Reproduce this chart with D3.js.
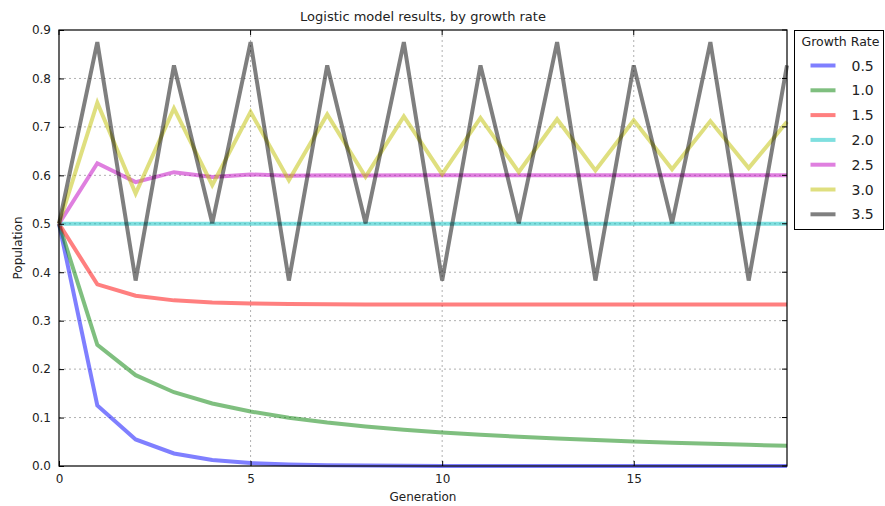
<!DOCTYPE html>
<html>
<head>
<meta charset="utf-8">
<script src="https://cdn.jsdelivr.net/npm/d3@7"></script>
<style>
  body { margin: 0; background: #fff; }
  svg text { font-family: "DejaVu Sans", sans-serif; fill: #222; }
</style>
</head>
<body>
<script>
// generations on the x axis
var generations = d3.range(0, 20);

// growth rates (legend labels)
var rates = ["0.5", "1.0", "1.5", "2.0", "2.5", "3.0", "3.5"];
var colors = ["#0000ff", "#008000", "#ff0000", "#00bfbf", "#bf00bf", "#bfbf00", "#000000"];

// population values, one array per growth rate
var pop05 = [0.5, 0.125, 0.0547, 0.0258, 0.0126, 0.0062, 0.0031, 0.0015, 0.0008, 0.0004, 0.0002, 0.0001, 0.0001, 0, 0, 0, 0, 0, 0, 0];
var pop10 = [0.5, 0.25, 0.1875, 0.1523, 0.1291, 0.1124, 0.0998, 0.0898, 0.0817, 0.075, 0.0694, 0.0646, 0.0604, 0.0568, 0.0536, 0.0507, 0.0481, 0.0458, 0.0437, 0.0418];
var pop15 = [0.5, 0.375, 0.3516, 0.3419, 0.3375, 0.3354, 0.3344, 0.3338, 0.3336, 0.3335, 0.3334, 0.3334, 0.3333, 0.3333, 0.3333, 0.3333, 0.3333, 0.3333, 0.3333, 0.3333];
var pop20 = [0.5, 0.5, 0.5, 0.5, 0.5, 0.5, 0.5, 0.5, 0.5, 0.5, 0.5, 0.5, 0.5, 0.5, 0.5, 0.5, 0.5, 0.5, 0.5, 0.5];
var pop25 = [0.5, 0.625, 0.5859, 0.6065, 0.5966, 0.6017, 0.5992, 0.6004, 0.5998, 0.6001, 0.6, 0.6, 0.6, 0.6, 0.6, 0.6, 0.6, 0.6, 0.6, 0.6];
var pop30 = [0.5, 0.75, 0.5625, 0.7383, 0.5796, 0.731, 0.5899, 0.7258, 0.597, 0.7218, 0.6024, 0.7185, 0.6068, 0.7158, 0.6101, 0.7137, 0.6127, 0.712, 0.6149, 0.7105];
var pop35 = [0.5, 0.875, 0.3828, 0.8269, 0.5009, 0.875, 0.3828, 0.8269, 0.5009, 0.875, 0.3828, 0.8269, 0.5009, 0.875, 0.3828, 0.8269, 0.5009, 0.875, 0.3828, 0.8269];
var series = [pop05, pop10, pop15, pop20, pop25, pop30, pop35];

var xTicks = [0, 5, 10, 15];
var yTicks = [0, 0.1, 0.2, 0.3, 0.4, 0.5, 0.6, 0.7, 0.8, 0.9];

var svgWidth = 885, svgHeight = 506;
var margin = {top: 30, right: 98, bottom: 40, left: 59};
var width = 787 - margin.left;
var height = 466 - margin.top;

var svg = d3.select("body").append("svg")
    .attr("width", svgWidth)
    .attr("height", svgHeight);

var chartGroup = svg.append("g").attr("transform", `translate(${margin.left}, ${margin.top})`);

var x = d3.scaleLinear().domain([0, 19]).range([0, width]);
var y = d3.scaleLinear().domain([0, 0.9]).range([height, 0]);

// grid
chartGroup.append("g").selectAll("line")
    .data(xTicks.slice(1))
    .enter().append("line")
    .attr("x1", d => x(d)).attr("x2", d => x(d))
    .attr("y1", 0).attr("y2", height)
    .attr("stroke", "#b0b0b0").attr("stroke-dasharray", "2,3").attr("stroke-width", 1);
chartGroup.append("g").selectAll("line")
    .data(yTicks.slice(1, -1))
    .enter().append("line")
    .attr("x1", 0).attr("x2", width)
    .attr("y1", d => y(d)).attr("y2", d => y(d))
    .attr("stroke", "#b0b0b0").attr("stroke-dasharray", "2,3").attr("stroke-width", 1);

// lines
var line = d3.line()
    .x((d, i) => x(generations[i]))
    .y(d => y(d));

chartGroup.append("g").selectAll("path")
    .data(series)
    .enter().append("path")
    .attr("d", line)
    .attr("fill", "none")
    .attr("stroke", (d, i) => colors[i])
    .attr("stroke-opacity", 0.5)
    .attr("stroke-width", 4)
    .attr("stroke-linejoin", "miter");

// axes, ticks pointing inward like matplotlib classic
var xAxis = d3.axisBottom(x).tickValues(xTicks).tickSize(-5).tickPadding(8).tickFormat(d3.format("d"));
var yAxis = d3.axisLeft(y).tickValues(yTicks).tickSize(-5).tickPadding(8).tickFormat(d3.format(".1f"));

var gx = chartGroup.append("g").attr("transform", `translate(0, ${height})`).call(xAxis);
var gy = chartGroup.append("g").call(yAxis);
[gx, gy].forEach(function(g) {
    g.select(".domain").remove();
    g.selectAll("line").attr("stroke", "#000");
    g.selectAll("text").style("font-size", "12px").attr("fill", "#222");
});

// top and right ticks
chartGroup.append("g").selectAll("line")
    .data(xTicks)
    .enter().append("line")
    .attr("x1", d => x(d)).attr("x2", d => x(d))
    .attr("y1", 0).attr("y2", 5).attr("stroke", "#000");
chartGroup.append("g").selectAll("line")
    .data(yTicks)
    .enter().append("line")
    .attr("x1", width - 5).attr("x2", width)
    .attr("y1", d => y(d)).attr("y2", d => y(d)).attr("stroke", "#000");

// frame
chartGroup.append("rect")
    .attr("width", width).attr("height", height)
    .attr("fill", "none").attr("stroke", "#000").attr("stroke-width", 1.2);

// titles
svg.append("text")
    .attr("x", margin.left + width / 2).attr("y", 21)
    .attr("text-anchor", "middle").style("font-size", "13px")
    .text("Logistic model results, by growth rate");

svg.append("text")
    .attr("x", margin.left + width / 2).attr("y", 501)
    .attr("text-anchor", "middle").style("font-size", "12px")
    .text("Generation");

svg.append("text")
    .attr("transform", `translate(22, ${margin.top + height / 2}) rotate(-90)`)
    .attr("text-anchor", "middle").style("font-size", "12px")
    .text("Population");

// legend
var legend = svg.append("g").attr("transform", "translate(794.5, 30.5)");
legend.append("rect")
    .attr("width", 89).attr("height", 199)
    .attr("fill", "#fff").attr("stroke", "#000").attr("stroke-width", 1);
legend.append("text")
    .attr("x", 46).attr("y", 15.5)
    .attr("text-anchor", "middle").style("font-size", "12.5px")
    .text("Growth Rate");

var items = legend.selectAll("g.item")
    .data(rates)
    .enter().append("g")
    .attr("class", "item")
    .attr("transform", (d, i) => `translate(0, ${35 + i * 24.8})`);
items.append("line")
    .attr("x1", 16).attr("x2", 41)
    .attr("stroke", (d, i) => colors[i])
    .attr("stroke-opacity", 0.5)
    .attr("stroke-width", 4);
items.append("text")
    .attr("x", 57).attr("y", 5)
    .style("font-size", "14px")
    .text(d => d);
</script>
</body>
</html>
